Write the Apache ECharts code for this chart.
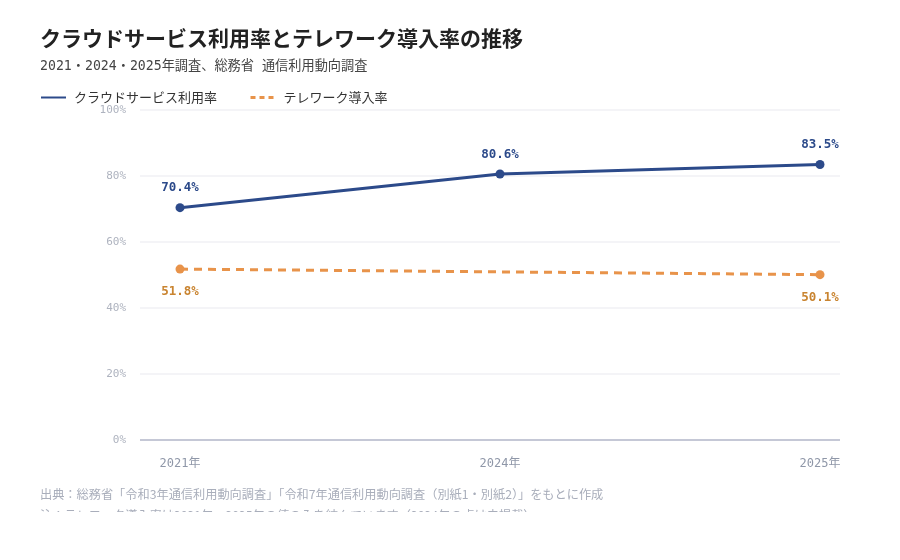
<!DOCTYPE html>
<html><head><meta charset="utf-8">
<script src="https://cdn.jsdelivr.net/npm/echarts@6/dist/echarts.min.js"></script>
<style>html,body{margin:0;padding:0;background:#fff;}#c{width:900px;height:512px;}</style>
</head><body><div id="c"></div>
<script>
const categories = ['2021年', '2024年', '2025年'];
const cloudRate = [70.4, 80.6, 83.5];
const teleworkRate = [51.8, null, 50.1];
const yTicks = [0, 20, 40, 60, 80, 100];
const seriesNames = ['クラウドサービス利用率', 'テレワーク導入率'];

const mono = "'DejaVu Sans Mono', 'Noto Sans CJK JP', monospace";
const jp = "'Noto Sans CJK JP', 'Noto Sans', sans-serif";
const blue = '#2c4a8a';
const orange = '#e8934a';

const chart = echarts.init(document.getElementById('c'));
chart.setOption({
  animation: false,
  backgroundColor: '#fff',
  title: [
    { text: 'クラウドサービス利用率とテレワーク導入率の推移', left: 35, top: 23,
      textStyle: { fontFamily: jp, fontSize: 21, fontWeight: 'bold', color: '#222' } },
    { text: '2021・2024・2025年調査、総務省 通信利用動向調査', left: 35, top: 55,
      textStyle: { fontFamily: mono + ',' + jp, fontSize: 13.2, fontWeight: 'normal', color: '#444' } }
  ],
  legend: {
    left: 35, top: 86, itemWidth: 25, itemHeight: 10, itemGap: 32,
    textStyle: { fontFamily: jp, fontSize: 13, color: '#333', padding: [0, 0, 0, 3] },
    itemStyle: { opacity: 0 },
    data: [
      { name: seriesNames[0] },
      { name: seriesNames[1], lineStyle: { type: [5, 4], width: 3, color: orange } }
    ]
  },
  grid: { left: 140, right: 60, top: 110, bottom: 72 },
  xAxis: {
    type: 'value', min: -0.125, max: 2.0625,
    axisLine: { show: false }, axisTick: { show: false }, splitLine: { show: false },
    axisLabel: { customValues: [0, 1, 2], formatter: v => categories[Math.round(v)],
      fontFamily: mono, fontSize: 12, color: '#8f97a8', margin: 18 }
  },
  yAxis: {
    type: 'value', min: 0, max: 100, interval: 20,
    axisLine: { show: false }, axisTick: { show: false },
    axisLabel: { formatter: v => yTicks.includes(v) ? v + '%' : '', fontFamily: mono, fontSize: 11, color: '#aeb3bf', margin: 14 },
    splitLine: { lineStyle: { color: '#f0f1f5', width: 1.5 } }
  },
  series: [
    { name: seriesNames[0], type: 'line', data: cloudRate.map((v, i) => [i, v]),
      symbol: 'circle', symbolSize: 9, color: blue,
      lineStyle: { color: blue, width: 3 }, itemStyle: { color: blue },
      label: { show: true, position: 'top', distance: 9, formatter: p => p.value[1].toFixed(1) + '%',
        fontFamily: mono, fontSize: 12.5, fontWeight: 'bold', color: blue },
      markLine: { silent: true, symbol: 'none', label: { show: false },
        lineStyle: { color: '#c5c8d6', width: 2, type: 'solid' }, data: [{ yAxis: 0 }] },
      z: 3 },
    { name: seriesNames[1], type: 'line', connectNulls: true,
      data: teleworkRate.map((v, i) => [i, v]).filter(d => d[1] !== null),
      symbol: 'circle', symbolSize: 9, color: orange,
      lineStyle: { color: orange, width: 3, type: [8, 6] }, itemStyle: { color: orange },
      label: { show: true, position: 'bottom', distance: 12, formatter: p => p.value[1].toFixed(1) + '%',
        fontFamily: mono, fontSize: 12.5, fontWeight: 'bold', color: '#c98430' },
      z: 2 }
  ],
  graphic: [
    { type: 'text', left: 40, top: 488, style: { text: '出典：総務省「令和3年通信利用動向調査」「令和7年通信利用動向調査（別紙1・別紙2）」をもとに作成',
      fontFamily: jp, fontSize: 12.2, fill: '#a9aebb' } },
    { type: 'text', left: 40, top: 509, style: { text: '注：テレワーク導入率は2021年、2025年の値のみを結んでいます（2024年の点は未掲載）',
      fontFamily: jp, fontSize: 12.2, fill: '#a9aebb' } }
  ]
});
</script></body></html>
